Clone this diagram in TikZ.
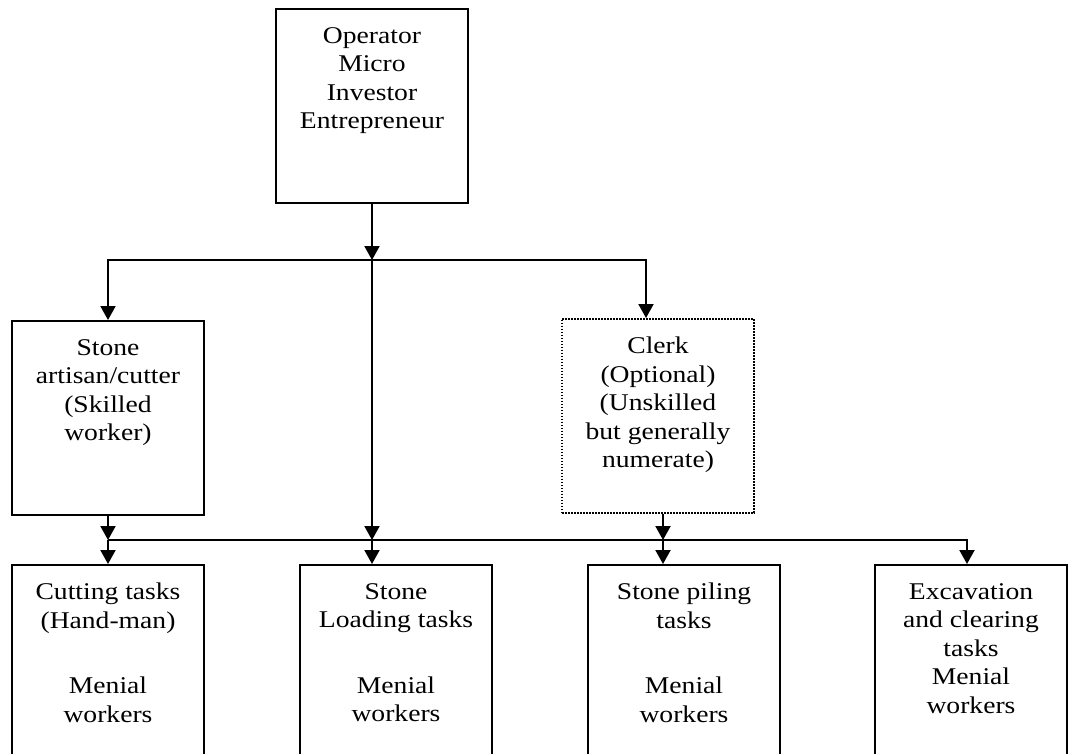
\documentclass[tikz,border=0pt]{standalone}
\usepackage{fontspec}
\setmainfont{Liberation Serif}[FakeStretch=1.15]
\usetikzlibrary{positioning}
\usetikzlibrary{arrows.meta}
\tikzset{
        box/.style={rectangle, draw=black, line width=2pt, inner sep=0pt, minimum width=192pt, minimum height=194pt},
        % Optional box
        box_optional/.style={box, line width=1.6pt, dash pattern=on 1.6pt off 1.4pt},
        % Text inside the boxes
        box_text/.style={align=center, inner sep=0pt, font=\fontsize{24}{28.5}\selectfont},
        % Connectors
        link/.style={line width=2pt},
        link_arrow/.style={link, -{Triangle[width=15pt,length=14pt]}}
}
\begin{document}
\begin{tikzpicture}[x=1pt, y=-1pt]
    \clip (0,0) rectangle (1069,753);
    % Boxes
    \node[box, anchor=north] (operator) at (372,8) {};
    \node[box, anchor=north] (artisan) at (108,320) {};
    \node[box_optional, anchor=north] (clerk) at (658,318) {};
    \node[box, anchor=north] (cutting) at (108,564) {};
    \node[box, anchor=north] (loading) at (396,564) {};
    \node[box, anchor=north] (piling) at (684,564) {};
    \node[box, anchor=north] (excavation) at (971,564) {};
    % Texts
    \node[box_text, below=19pt of operator.north] (operator_text) {Operator\\Micro\\Investor\\Entrepreneur};
    \node[box_text, below=19pt of artisan.north] (artisan_text) {Stone\\artisan/cutter\\(Skilled\\worker)};
    \node[box_text, below=19pt of clerk.north] (clerk_text) {Clerk\\(Optional)\\(Unskilled\\but generally\\numerate)};
    \node[box_text, below=19pt of cutting.north] (cutting_text) {Cutting tasks\\(Hand-man)\\[37pt]Menial\\workers};
    \node[box_text, below=19pt of loading.north] (loading_text) {Stone\\Loading tasks\\[37pt]Menial\\workers};
    \node[box_text, below=19pt of piling.north] (piling_text) {Stone piling\\tasks\\[37pt]Menial\\workers};
    \node[box_text, below=19pt of excavation.north] (excavation_text) {Excavation\\and clearing\\tasks\\Menial\\workers};
    % Connectors
    \coordinate (split) at (372,260);
    \coordinate (merge) at (372,540);
    \draw[link_arrow] (operator.south) -- (split);
    \draw[link_arrow] (split) -| (artisan.north);
    \draw[link_arrow] (split) -| ([xshift=-12pt]clerk.north);
    \draw[link_arrow] (split) -- (merge);
    \draw[link_arrow] (merge) -- (merge |- loading.north);
    \draw[link] (merge) -- (artisan.south |- merge);
    \draw[link_arrow] (artisan.south) -- (artisan.south |- merge);
    \draw[link_arrow] (artisan.south |- merge) -- (cutting.north);
    \draw[link_arrow] ([xshift=5pt]clerk.south) -- ([xshift=5pt]clerk.south |- merge);
    \draw[link_arrow] ([xshift=5pt]clerk.south |- merge) -- ([xshift=5pt]clerk.south |- piling.north);
    \draw[link_arrow] (merge) -| ([xshift=-4pt]excavation.north);
\end{tikzpicture}
\end{document}
